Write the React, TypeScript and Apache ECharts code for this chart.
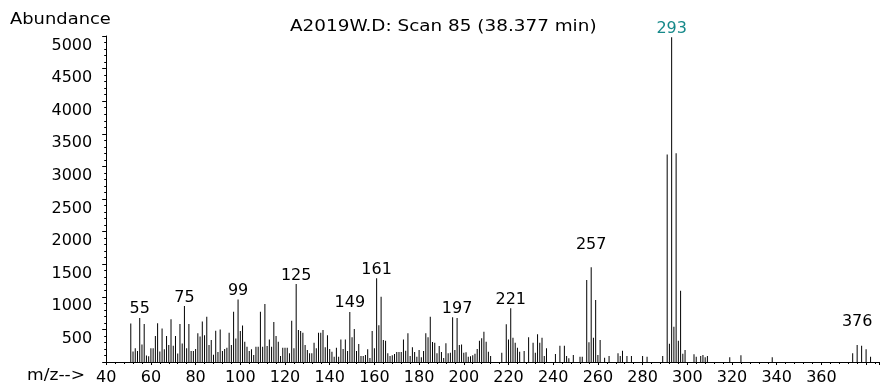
import React, { useEffect, useRef } from "react";
import * as echarts from "echarts";

// m/z values and abundances
const mzValues: number[] = [
  51, 52, 53, 54, 55, 56, 57, 58, 59, 60, 61, 62, 63, 64, 65, 66, 67, 68, 69, 70,
  71, 72, 73, 74, 75, 76, 77, 78, 79, 80, 81, 82, 83, 84, 85, 86, 87, 88, 89, 90,
  91, 92, 93, 94, 95, 96, 97, 98, 99, 100, 101, 102, 103, 104, 105, 106, 107, 108, 109, 110,
  111, 112, 113, 114, 115, 116, 117, 118, 119, 120, 121, 122, 123, 124, 125, 126, 127, 128, 129, 130,
  131, 132, 133, 134, 135, 136, 137, 138, 139, 140, 141, 142, 143, 144, 145, 146, 147, 148, 149, 150,
  151, 152, 153, 154, 155, 156, 157, 158, 159, 160, 161, 162, 163, 164, 165, 166, 167, 168, 169, 170,
  171, 172, 173, 174, 175, 176, 177, 178, 179, 180, 181, 182, 183, 184, 185, 186, 187, 188, 189, 190,
  191, 192, 193, 194, 195, 196, 197, 198, 199, 200, 201, 202, 203, 204, 205, 206, 207, 208, 209, 210,
  211, 212, 217, 219, 220, 221, 222, 223, 224, 225, 227, 229, 231, 232, 233, 234, 235, 236, 237, 241,
  243, 245, 246, 247, 249, 252, 253, 255, 256, 257, 258, 259, 260, 261, 263, 265, 269, 270, 271, 273,
  275, 280, 282, 289, 291, 292, 293, 294, 295, 296, 297, 298, 299, 303, 304, 306, 307, 308, 309, 319,
  324, 338, 374, 376, 378, 380, 382,
];

const abundanceValues: number[] = [
  590, 160, 210, 170, 675, 270, 583, 100, 90, 210, 210, 400, 593, 160, 515, 195, 400, 260, 655, 250,
  400, 130, 583, 285, 858, 210, 583, 170, 170, 200, 440, 390, 623, 410, 695, 260, 337, 110, 480, 153,
  500, 170, 200, 220, 450, 260, 770, 360, 960, 475, 560, 310, 235, 170, 195, 107, 235, 235, 770, 235,
  890, 245, 347, 235, 613, 400, 310, 92, 220, 220, 220, 133, 634, 210, 1196, 490, 475, 450, 260, 184,
  133, 133, 296, 210, 450, 450, 490, 225, 410, 200, 158, 82, 220, 82, 347, 200, 347, 170, 767, 378,
  506, 170, 276, 92, 92, 107, 194, 60, 475, 210, 1283, 562, 1002, 337, 327, 133, 92, 102, 123, 153,
  153, 153, 347, 174, 440, 92, 225, 153, 82, 184, 72, 170, 440, 378, 695, 307, 296, 133, 245, 153,
  60, 286, 133, 143, 685, 184, 675, 260, 270, 143, 150, 82, 90, 105, 128, 200, 327, 363, 465, 312,
  158, 92, 143, 580, 347, 825, 373, 296, 220, 158, 169, 378, 296, 143, 424, 296, 373, 92, 210, 123,
  250, 250, 92, 56, 107, 82, 82, 1257, 301, 1455, 373, 950, 107, 337, 66, 92, 133, 92, 174, 92,
  92, 92, 82, 92, 3183, 281, 4980, 540, 3200, 327, 1094, 128, 184, 118, 82, 92, 107, 72, 92, 72,
  102, 72, 133, 262, 250, 196, 82,
];

const labeledPeaks: number[] = [55, 75, 99, 125, 149, 161, 197, 221, 257, 293, 376];
const raisedLabelPeaks: number[] = [257, 376];
const highlightPeak = 293;

const titleText = "A2019W.D: Scan 85 (38.377 min)";
const yAxisTitle = "Abundance";
const xAxisTitle = "m/z-->";

const FONT = "DejaVu Sans";

export default function App() {
  const ref = useRef<HTMLDivElement>(null);

  useEffect(() => {
    if (!ref.current) return;
    const chart = echarts.init(ref.current, undefined, { renderer: "svg" });

    const data = mzValues.map((m, i) => {
      const item: any = { value: [m, abundanceValues[i]] };
      if (labeledPeaks.includes(m)) {
        item.label = {
          show: true,
          position: "top",
          distance: raisedLabelPeaks.includes(m) ? 16 : 2,
          formatter: String(m),
          color: m === highlightPeak ? "#16898a" : "#000",
          fontFamily: FONT,
          fontSize: 16,
        };
      }
      return item;
    });

    chart.setOption({
      animation: false,
      grid: {
        left: 106.2,
        right: 2.5,
        top: 36,
        bottom: 23,
        outerBoundsMode: "none",
      },
      xAxis: {
        type: "value",
        min: 40,
        max: 386,
        interval: 20,
        axisLine: { show: true, lineStyle: { color: "#000", width: 1 } },
        axisTick: { show: true, length: 3, lineStyle: { color: "#000" } },
        minorTick: { show: true, splitNumber: 5, length: 2, lineStyle: { color: "#000" } },
        splitLine: { show: false },
        axisLabel: {
          margin: 6,
          color: "#000",
          fontFamily: FONT,
          fontSize: 16,
          formatter: (v: number) => (v <= 360 ? String(v) : ""),
        },
      },
      yAxis: {
        type: "value",
        min: 0,
        max: 5000,
        interval: 500,
        axisLine: { show: true, lineStyle: { color: "#000", width: 1 } },
        axisTick: { show: true, length: 4, lineStyle: { color: "#000" } },
        minorTick: { show: true, splitNumber: 5, length: 2, lineStyle: { color: "#000" } },
        splitLine: { show: false },
        axisLabel: {
          margin: 14,
          color: "#000",
          fontFamily: FONT,
          fontSize: 16,
          verticalAlign: "top",
          formatter: (v: number) => (v === 0 ? "" : String(v)),
        },
      },
      series: [
        {
          type: "bar",
          data,
          barWidth: 1,
          itemStyle: { color: "#000" },
          label: { show: false },
          emphasis: { disabled: true },
        },
      ],
      graphic: [
        {
          type: "text",
          x: 290,
          y: 17,
          scaleX: 1.15,
          style: {
            text: titleText,
            fill: "#000",
            font: `16px '${FONT}'`,
            textVerticalAlign: "top",
            verticalAlign: "top",
          },
        },
        {
          type: "text",
          x: 10,
          y: 10,
          scaleX: 1.12,
          style: {
            text: yAxisTitle,
            fill: "#000",
            font: `16px '${FONT}'`,
            textVerticalAlign: "top",
            verticalAlign: "top",
          },
        },
        {
          type: "text",
          x: 27,
          y: 367,
          scaleX: 1.07,
          style: {
            text: xAxisTitle,
            fill: "#000",
            font: `16px '${FONT}'`,
            textVerticalAlign: "top",
            verticalAlign: "top",
          },
        },
      ],
    });

    return () => {
      chart.dispose();
    };
  }, []);

  return (
    <div
      ref={ref}
      style={{ position: "fixed", left: 0, top: 0, width: 882, height: 385 }}
    />
  );
}
